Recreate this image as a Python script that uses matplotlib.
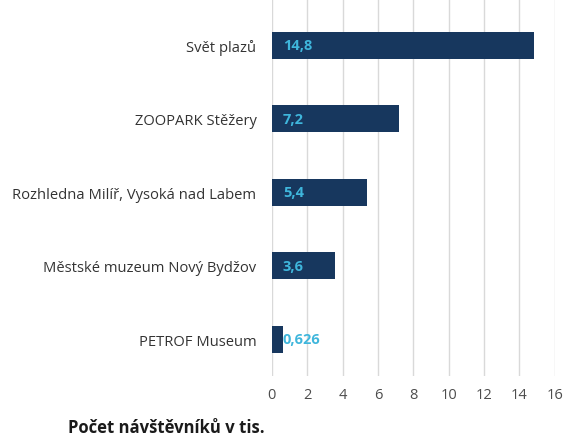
import matplotlib
matplotlib.use("Agg")
import matplotlib.pyplot as plt
import numpy as np

plt.rcParams['font.family'] = ['Open Sans', 'DejaVu Sans']

# data, top to bottom as in the chart
places = ["Svět plazů", "ZOOPARK Stěžery", "Rozhledna Milíř, Vysoká nad Labem",
          "Městské muzeum Nový Bydžov", "PETROF Museum"]
visitors = [14.8, 7.2, 5.4, 3.6, 0.626]
value_labels = ["14,8", "7,2", "5,4", "3,6", "0,626"]
xticks = [0, 2, 4, 6, 8, 10, 12, 14, 16]

fig = plt.figure(figsize=(5.65, 4.39), dpi=100)
ax = fig.add_axes([0.481, 0.141, 0.501, 0.859])

y = np.arange(len(places))
ax.barh(y, visitors, height=0.37, color="#17375e", zorder=3)

# value labels inside the bars
for yi, lab in zip(y, value_labels):
    ax.annotate(lab, xy=(0, yi), xytext=(8, 0), textcoords="offset points",
                ha="left", va="center", color="#3fb6dc", fontsize=10.5,
                fontweight="bold", zorder=4)

ax.set_xlim(0, 16)
ax.set_ylim(4.5, -0.63)
ax.set_xticks(xticks)
ax.set_yticks(y)
ax.set_yticklabels(places)
ax.tick_params(axis="y", length=0, pad=11, labelsize=10.6, labelcolor="#333333")
ax.tick_params(axis="x", length=0, pad=8, labelsize=10.5, labelcolor="#4d4d4d")
ax.grid(axis="x", color="#d9d9d9", linewidth=1, zorder=0)
for s in ax.spines.values():
    s.set_visible(False)

fig.text(68 / 565, 1 - 428 / 439, "Počet návštěvníků v tis.", fontsize=12,
         fontweight="bold", color="#1a1a1a", ha="left", va="center")

fig.savefig("out.png", dpi=100)
